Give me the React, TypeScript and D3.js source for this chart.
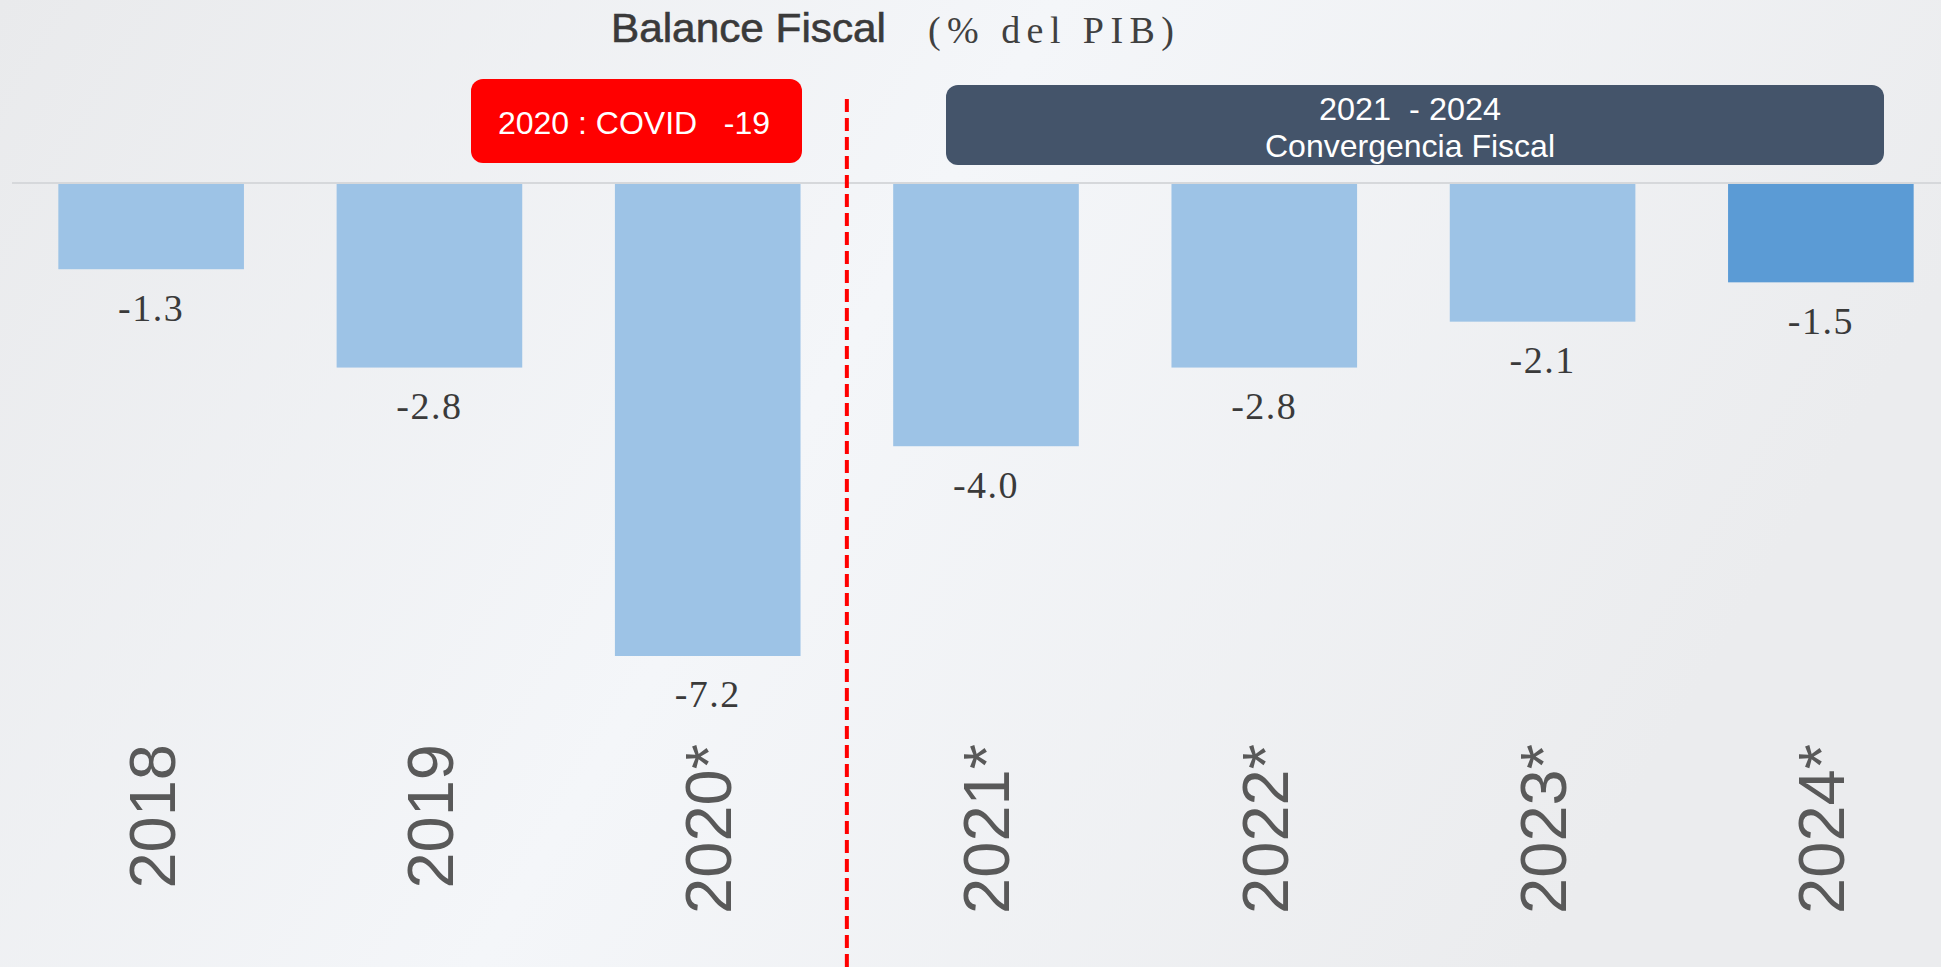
import React from "react";
import * as d3 from "d3";

const categories = ["2018", "2019", "2020*", "2021*", "2022*", "2023*", "2024*"];
const values = [-1.3, -2.8, -7.2, -4.0, -2.8, -2.1, -1.5];
const valueLabels = ["-1.3", "-2.8", "-7.2", "-4.0", "-2.8", "-2.1", "-1.5"];
const highlighted = ["2024*"];

const W = 1941;
const H = 967;

export default function App() {
  const x = d3.scaleBand<string>().domain(categories).range([12, 1960]).paddingInner(0.333).paddingOuter(0.1665);
  const y = d3.scaleLinear().domain([0, -7.2]).range([184, 656]);
  const xDash = (x("2020*")! + x.bandwidth() + x("2021*")!) / 2;

  return (
    <svg width={W} height={H} style={{ position: "absolute", left: 0, top: 0, display: "block" }}>
      <defs>
        <linearGradient id="bg" x1="0" y1="0" x2="1" y2="0.3">
          <stop offset="0" stopColor="#e9eaec" />
          <stop offset="0.5" stopColor="#f4f6f9" />
          <stop offset="1" stopColor="#ebecee" />
        </linearGradient>
      </defs>
      <rect x={0} y={0} width={W} height={H} fill="url(#bg)" />

      {/* title */}
      <text x={611} y={42} fontFamily="Arial, 'Liberation Sans', sans-serif" fontSize={41} fill="#3a3a3a"
        stroke="#3a3a3a" strokeWidth={0.6} textLength={275} lengthAdjust="spacingAndGlyphs">
        Balance Fiscal
      </text>
      <text x={928} y={43} fontFamily="'Times New Roman', 'Liberation Serif', serif" fontSize={38} fill="#404040"
        textLength={246} lengthAdjust="spacing">
        (% del PIB)
      </text>

      {/* baseline */}
      <line x1={12} x2={W} y1={y(0) - 1} y2={y(0) - 1} stroke="#d6d8db" strokeWidth={2} />

      {/* bars */}
      {categories.map((c, i) => (
        <rect key={c} x={x(c)} y={y(0)} width={x.bandwidth()} height={y(values[i]) - y(0)}
          fill={highlighted.includes(c) ? "#5B9BD5" : "#9DC3E6"} />
      ))}

      {/* value labels */}
      {categories.map((c, i) => (
        <text key={c} x={x(c)! + x.bandwidth() / 2} y={y(values[i]) + 38} dy="0.35em" textAnchor="middle"
          fontFamily="'Times New Roman', 'Liberation Serif', serif" fontSize={38} fill="#3a3a3a" letterSpacing={1.5}>
          {valueLabels[i]}
        </text>
      ))}

      {/* category labels */}
      {categories.map((c) => {
        const cx = x(c)! + x.bandwidth() / 2;
        return (
          <text key={c} transform={`translate(${cx},744) rotate(-90)`} dy="0.36em" textAnchor="end"
            fontFamily="Arial, 'Liberation Sans', sans-serif" fontSize={65} fill="#595959">
            {c}
          </text>
        );
      })}

      {/* dashed divider */}
      <line x1={xDash} x2={xDash} y1={99} y2={H} stroke="#ff0000" strokeWidth={4} strokeDasharray="13 6" />

      {/* COVID box */}
      <rect x={471} y={79} width={331} height={84} rx={12} fill="#ff0000" />
      <text x={634} y={123} dy="0.35em" textAnchor="middle" fontFamily="Arial, 'Liberation Sans', sans-serif"
        fontSize={32} fill="#ffffff" style={{ whiteSpace: "pre" }}>
        {"2020 : COVID   -19"}
      </text>

      {/* Convergence box */}
      <rect x={946} y={85} width={938} height={80} rx={12} fill="#44546A" />
      <text x={1410} y={109} dy="0.35em" textAnchor="middle" fontFamily="Arial, 'Liberation Sans', sans-serif"
        fontSize={32} fill="#ffffff" style={{ whiteSpace: "pre" }} textLength={182} lengthAdjust="spacingAndGlyphs">
        {"2021  - 2024"}
      </text>
      <text x={1410} y={146} dy="0.35em" textAnchor="middle" fontFamily="Arial, 'Liberation Sans', sans-serif"
        fontSize={32} fill="#ffffff" textLength={290} lengthAdjust="spacingAndGlyphs">
        Convergencia Fiscal
      </text>
    </svg>
  );
}
